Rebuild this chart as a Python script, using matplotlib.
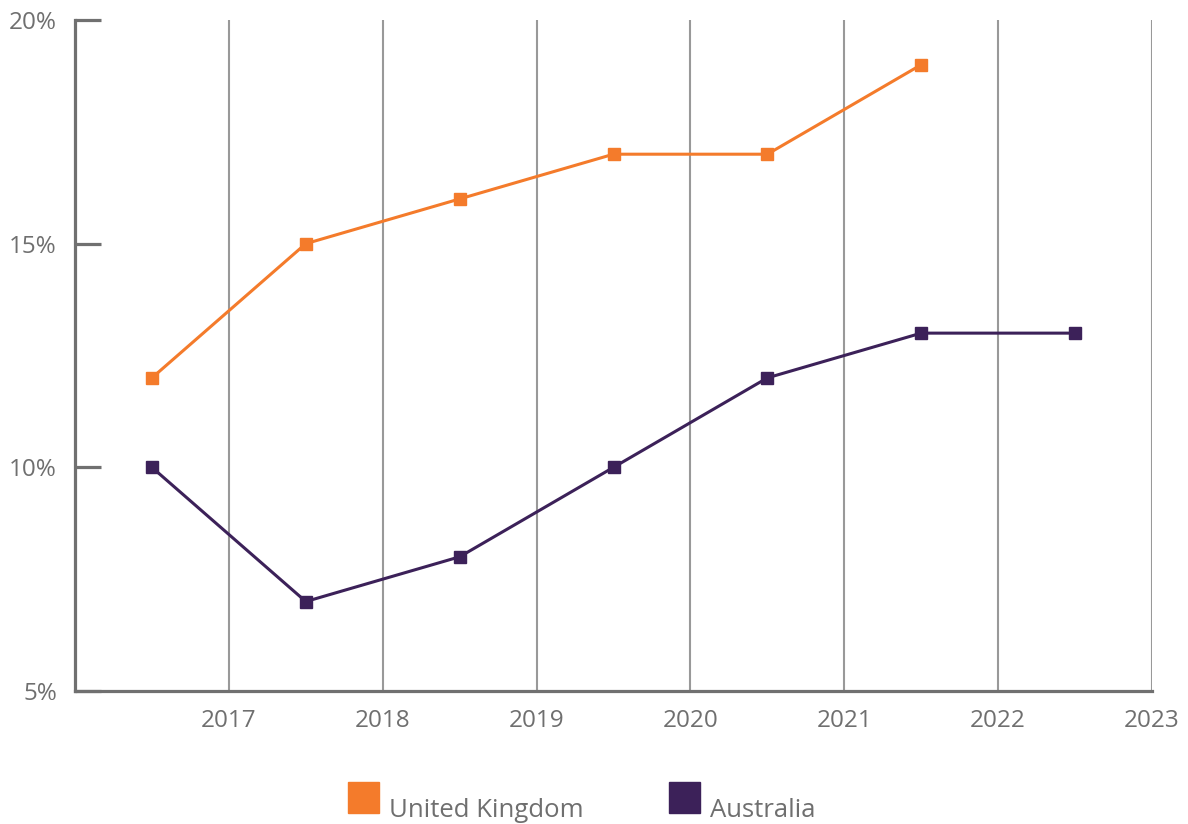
import matplotlib
matplotlib.use("Agg")
import matplotlib.pyplot as plt
from matplotlib.patches import Rectangle
from matplotlib.ticker import FuncFormatter

# ---- data (share, %) -------------------------------------------------------
YEARS_UK = [2016.5, 2017.5, 2018.5, 2019.5, 2020.5, 2021.5]
UK = [12, 15, 16, 17, 17, 19]
YEARS_AU = [2016.5, 2017.5, 2018.5, 2019.5, 2020.5, 2021.5, 2022.5]
AUSTRALIA = [10, 7, 8, 10, 12, 13, 13]
SERIES_NAMES = ["United Kingdom", "Australia"]
X_TICKS = [2017, 2018, 2019, 2020, 2021, 2022, 2023]
Y_TICKS = [5, 10, 15, 20]

ORANGE = "#f47b2b"
PURPLE = "#3c2159"
AXIS_GREY = "#707070"
GRID_GREY = "#999999"
TEXT_GREY = "#6f6f6f"

plt.rcParams["font.family"] = ["Open Sans", "DejaVu Sans"]

fig = plt.figure(figsize=(11.88, 8.24), dpi=100)
ax = fig.add_axes([75 / 1188, 133 / 824, 1077 / 1188, 671 / 824])

ax.plot(YEARS_UK, UK, color=ORANGE, lw=2.2, marker="s", ms=8,
        label=SERIES_NAMES[0], zorder=3, clip_on=False)
ax.plot(YEARS_AU, AUSTRALIA, color=PURPLE, lw=2.2, marker="s", ms=8,
        label=SERIES_NAMES[1], zorder=3, clip_on=False)

ax.set_xlim(2016, 2023)
ax.set_ylim(5, 20)
ax.set_xticks(X_TICKS)
ax.set_yticks(Y_TICKS)
ax.yaxis.set_major_formatter(FuncFormatter(lambda v, _: f"{v:.0f}%"))

# vertical grid at each year, right edge included
ax.grid(True, axis="x", color=GRID_GREY, lw=1.5)
ax.set_axisbelow(True)

for side in ("top", "right"):
    ax.spines[side].set_visible(False)
for side in ("left", "bottom"):
    ax.spines[side].set_color(AXIS_GREY)
    ax.spines[side].set_linewidth(2.3)

ax.tick_params(axis="y", direction="in", length=19, width=2.3, color=AXIS_GREY,
               labelcolor=TEXT_GREY, labelsize=17.5, pad=13)
ax.tick_params(axis="x", length=0, labelcolor=TEXT_GREY, labelsize=17.5, pad=13)

# legend: squares with labels sitting slightly below
for x0, name, col in [(348, SERIES_NAMES[0], ORANGE), (669, SERIES_NAMES[1], PURPLE)]:
    fig.patches.append(Rectangle((x0 / 1188, 11 / 824), 31 / 1188, 31 / 824,
                                 transform=fig.transFigure, color=col))
    fig.text((x0 + 41) / 1188, 7 / 824, name, color=TEXT_GREY, fontsize=18.5,
             ha="left", va="baseline")

fig.savefig("out.png", dpi=100)
